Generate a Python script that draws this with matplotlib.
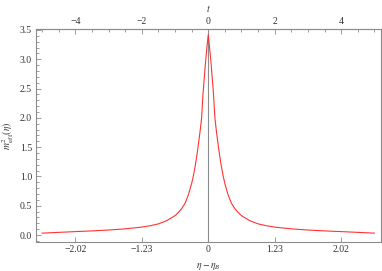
import matplotlib
matplotlib.use("Agg")
import matplotlib.pyplot as plt
from matplotlib.ticker import MultipleLocator, FixedLocator

# data (t, m^2_eff), symmetric about t = 0
t_vals = [-5.0, -4.5, -4.0, -3.5, -3.0, -2.5, -2.0, -1.75, -1.5, -1.25, -1.0, -0.9,
          -0.8, -0.7, -0.6, -0.5, -0.44, -0.38, -0.32, -0.25, -0.2, -0.16, -0.12,
          -0.08, -0.04, 0.0,
          0.04, 0.08, 0.12, 0.16, 0.2, 0.25, 0.32, 0.38, 0.44, 0.5, 0.6, 0.7, 0.8,
          0.9, 1.0, 1.25, 1.5, 1.75, 2.0, 2.5, 3.0, 3.5, 4.0, 4.5, 5.0]
m2_vals = [0.032, 0.045, 0.058, 0.07, 0.085, 0.105, 0.135, 0.158, 0.19, 0.245, 0.33, 0.385,
           0.45, 0.54, 0.68, 0.88, 1.03, 1.22, 1.45, 1.75, 2.0, 2.39, 2.68,
           2.96, 3.2, 3.42,
           3.2, 2.96, 2.68, 2.39, 2.0, 1.75, 1.45, 1.22, 1.03, 0.88, 0.68, 0.54, 0.45,
           0.385, 0.33, 0.245, 0.19, 0.158, 0.135, 0.105, 0.085, 0.07, 0.058, 0.045, 0.032]

bottom_tick_pos = [-4, -2, 0, 2, 4]
bottom_tick_labels = ["\u22122.02", "\u22121.23", "0", "1.23", "2.02"]
top_ticks = [-4, -2, 0, 2, 4]
left_ticks = [0.0, 0.5, 1.0, 1.5, 2.0, 2.5, 3.0, 3.5]

plt.rcParams['font.family'] = ['Liberation Serif', 'DejaVu Serif']
plt.rcParams['mathtext.fontset'] = 'stix'

W, H = 382, 271
fig = plt.figure(figsize=(W / 100, H / 100), dpi=100)
ax = fig.add_axes([35.5 / W, 1 - 242 / H, (381 - 35.5) / W, (242 - 29) / H])

frame_col = '#8c8c8c'
ax.plot(t_vals, m2_vals, color='#ff3333', lw=0.8, zorder=3)
ax.axvline(0, color='#8c8c8c', lw=0.8, zorder=2)

ax.set_xlim(-5.2, 5.2)
ax.set_ylim(-0.1195, 3.517)

for s in ax.spines.values():
    s.set_color(frame_col)
    s.set_linewidth(0.8)

ax.set_xticks(bottom_tick_pos)
ax.set_xticklabels(bottom_tick_labels)
ax.set_yticks(left_ticks)
ax.set_yticklabels([f"{v:.1f}" for v in left_ticks])
ax.yaxis.set_minor_locator(MultipleLocator(0.1))
ax.tick_params(axis='both', which='both', direction='in', color=frame_col,
               labelsize=7, labelcolor='#333333', width=0.6)
ax.tick_params(axis='both', which='major', length=3.5, pad=2.5)
ax.tick_params(axis='y', which='minor', length=2)
ax.tick_params(axis='x', which='minor', bottom=False)
ax.tick_params(right=False, which='both')

top = ax.secondary_xaxis('top')
top.set_xticks(top_ticks)
top.set_xticklabels([str(v).replace('-', '\u2212') for v in top_ticks])
top.xaxis.set_minor_locator(MultipleLocator(0.5))
top.tick_params(axis='x', which='both', direction='in', color=frame_col,
                labelsize=7, labelcolor='#333333', width=0.6)
top.tick_params(which='major', length=3.5, pad=2.5)
top.tick_params(which='minor', length=2)
top.spines['top'].set_color(frame_col)
top.set_xlabel('$t$', fontsize=7, color='#333333', labelpad=3)

ax.set_xlabel(r'$\eta-\eta_B$', fontsize=7, color='#333333', labelpad=5)
ax.set_ylabel(r'$m^2_{\,\mathrm{eff}}(\eta)$', fontsize=7, color='#333333', labelpad=3)

fig.savefig('out.png', dpi=100)
